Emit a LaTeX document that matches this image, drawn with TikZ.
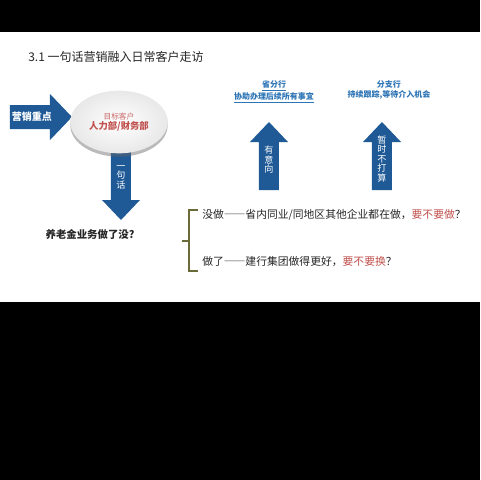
\documentclass[tikz,border=0pt]{standalone}
\usepackage{fontspec}
\setmainfont{Noto Sans CJK SC}
\usetikzlibrary{shapes.geometric,shadows}
\definecolor{arrowblue}{HTML}{1F5A96}
\definecolor{labelblue}{HTML}{2E75B6}
\definecolor{askred}{HTML}{C0504D}
\definecolor{bracecol}{HTML}{6B6B3A}
\newcommand*\fwdash{{\addfontfeatures{RawFeature=+fwid}——}}

\begin{document}
\begin{tikzpicture}[x=0.75pt,y=-0.75pt,
    blockarrow/.style={fill=arrowblue},
    txt/.style={inner sep=0pt,text=black!85},
    arrowtext/.style={inner sep=0pt,text=white,align=center,font=\fontsize{6.8}{7.1}\selectfont},
    bluelabel/.style={inner sep=0pt,text=labelblue,align=center,font=\fontsize{6}{7.5}\selectfont\bfseries}]
  \fill[black] (0,0) rectangle (480,480);
  \fill[white] (0,32) rectangle (480,302);
  \useasboundingbox (0,0) rectangle (480,480);

  % title
  \node (title) [txt,anchor=west,font=\fontsize{9}{11}\selectfont] at (28,57) {3.1 一句话营销融入日常客户走访};

  % left block arrow
  \fill[blockarrow] (10,105) -- (50,105) -- (50,94) -- (72,117) -- (50,140) -- (50,129) -- (10,129) -- cycle;
  \node (focus) [inner sep=0pt,text=white,font=\fontsize{7.5}{9}\selectfont\bfseries] at (32,117) {营销重点};

  % down block arrow
  \fill[blockarrow] (111,140) -- (131,140) -- (131,200) -- (140,200) -- (121,220) -- (102,200) -- (111,200) -- cycle;
  \node (oneline) [arrowtext] at (121,177) {一\\句\\话};

  % target customer disc
  \node (target) [ellipse,minimum width=73pt,minimum height=47pt,inner sep=0pt,
    shade,inner color=white,outer color=gray!18,
    drop shadow={shadow xshift=0pt,shadow yshift=-2.5pt,opacity=.45,fill=gray!80!black},
    align=center,font=\fontsize{5.8}{8}\selectfont] at (119,122)
    {\textcolor{askred!85}{目标客户}\\{\fontsize{7}{8}\selectfont\bfseries\textcolor{askred}{人力部/财务部}}};

  \node (question) [txt,font=\fontsize{7.8}{9}\selectfont\bfseries] at (90,234) {养老金业务做了没?};

  % brace
  \draw[bracecol,line width=1pt] (198,210) -- (189,210) -- (189,271) -- (198,271);
  \draw[bracecol,line width=1pt] (182,241) -- (189,241);

  \node (notyet) [txt,anchor=west,font=\fontsize{8.1}{9}\selectfont] at (202,215)
    {没做\fwdash 省内同业/同地区其他企业都在做，\textcolor{askred}{要不要做}？};
  \node (done) [txt,anchor=west,font=\fontsize{8.1}{9}\selectfont] at (202,262)
    {做了\fwdash 建行集团做得更好，\textcolor{askred}{要不要换}？};

  % up block arrows
  \fill[blockarrow] (259,190) -- (259,142) -- (250,142) -- (269,122) -- (288,142) -- (279,142) -- (279,190) -- cycle;
  \node (intent) [arrowtext] at (269,160) {有\\意\\向};
  \fill[blockarrow] (372,190) -- (372,142) -- (363,142) -- (382,122) -- (401,142) -- (392,142) -- (392,190) -- cycle;
  \node (notnow) [arrowtext] at (382,159) {暂\\时\\不\\打\\算};

  \node (province) [bluelabel] at (274,92) {\underline{省分行}\\\underline{协助办理后续所有事宜}};
  \node (branch) [bluelabel] at (389,90) {分支行\\持续跟踪,等待介入机会};
\end{tikzpicture}
\end{document}
